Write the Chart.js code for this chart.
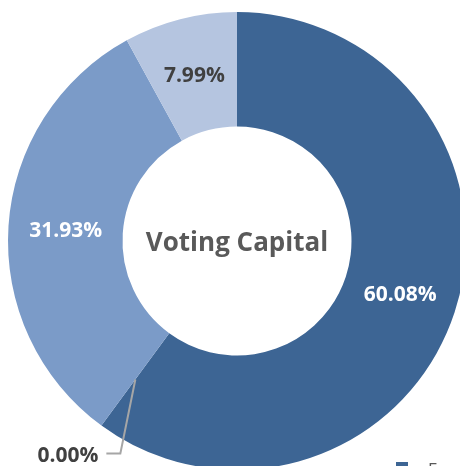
<!DOCTYPE html>
<html>
<head>
<meta charset="utf-8">
<script src="https://cdn.jsdelivr.net/npm/chart.js@4.4.0/dist/chart.umd.min.js"></script>
<style>
  html, body { margin: 0; padding: 0; background: #fff; overflow: hidden; }
  #wrap { position: absolute; left: 0; top: 0; width: 480px; height: 490px; }
</style>
</head>
<body>
<div id="wrap"><canvas id="votingChart" width="480" height="490"></canvas></div>
<script>
// Chart data
const categories = ['For', 'Against', 'Abstain', 'Withheld'];
const shares = [60.08, 0.00, 31.93, 7.99];
const sliceColors = ['#3d6594', '#a5a5a5', '#7b9bc8', '#b5c5e0'];
const labelColors = ['#ffffff', '#404040', '#ffffff', '#404040'];
const centerTitle = 'Voting Capital';

const FONT = '"Open Sans", "DejaVu Sans", sans-serif';

/**
 * Percentage labels on the slices, with a leader line for empty slices
 */
const sliceLabels = {
    id: 'sliceLabels',
    afterDatasetsDraw(chart) {
        const ctx = chart.ctx;
        const meta = chart.getDatasetMeta(0);
        ctx.save();
        ctx.font = 'bold 21px ' + FONT;
        ctx.textBaseline = 'middle';
        meta.data.forEach((arc, i) => {
            const pos = arc.tooltipPosition();
            const text = shares[i].toFixed(2) + '%';
            ctx.fillStyle = labelColors[i];
            if (shares[i] === 0) {
                // leader line out of the slice, then label to the left
                const bx = pos.x - 15, by = pos.y + 74;
                ctx.strokeStyle = '#a6a6a6';
                ctx.lineWidth = 2;
                ctx.beginPath();
                ctx.moveTo(pos.x, pos.y);
                ctx.lineTo(bx, by);
                ctx.lineTo(bx - 14, by);
                ctx.stroke();
                ctx.textAlign = 'right';
                ctx.fillText(text, bx - 22, by + 3);
            } else {
                ctx.textAlign = 'center';
                ctx.fillText(text, pos.x, pos.y + 1);
            }
        });
        ctx.restore();
    }
};

/**
 * Title in the hole of the doughnut
 */
const centerText = {
    id: 'centerText',
    afterDraw(chart) {
        const ctx = chart.ctx;
        const arc = chart.getDatasetMeta(0).data[0];
        ctx.save();
        ctx.font = 'bold 26px ' + FONT;
        ctx.fillStyle = '#595959';
        ctx.textAlign = 'center';
        ctx.textBaseline = 'middle';
        ctx.fillText(centerTitle, arc.x, arc.y + 3);
        ctx.restore();
    }
};

/**
 * Legend entry (mostly cut off at the bottom right)
 */
const cornerLegend = {
    id: 'cornerLegend',
    afterDraw(chart) {
        const ctx = chart.ctx;
        ctx.save();
        ctx.fillStyle = sliceColors[0];
        ctx.fillRect(396, 462, 12, 12);
        ctx.font = '17px ' + FONT;
        ctx.fillStyle = '#595959';
        ctx.textBaseline = 'top';
        ctx.fillText(categories[0], 428, 462);
        ctx.restore();
    }
};

document.addEventListener('DOMContentLoaded', function() {
    new Chart(document.getElementById('votingChart'), {
        type: 'doughnut',
        data: {
            labels: categories,
            datasets: [{
                data: shares,
                backgroundColor: sliceColors,
                borderWidth: 0
            }]
        },
        options: {
            responsive: false,
            animation: false,
            cutout: '50%',
            layout: { padding: { left: 8, top: 12, right: 14, bottom: 20 } },
            plugins: {
                legend: { display: false },
                tooltip: { enabled: false }
            }
        },
        plugins: [sliceLabels, centerText, cornerLegend]
    });
});
</script>
</body>
</html>
